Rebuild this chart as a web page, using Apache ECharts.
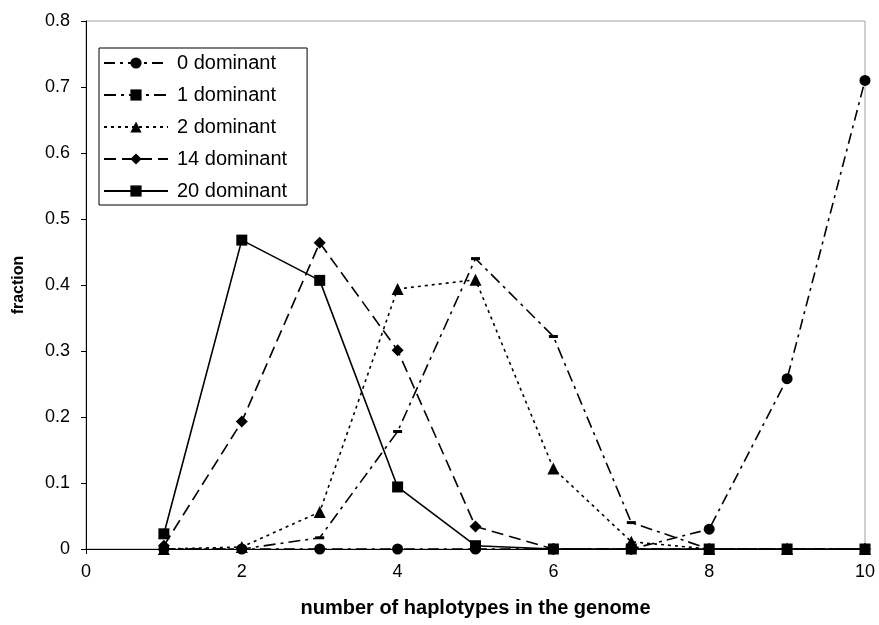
<!DOCTYPE html>
<html>
<head>
<meta charset="utf-8">
<script src="https://cdn.jsdelivr.net/npm/echarts@6/dist/echarts.min.js"></script>
<style>
  html, body { margin: 0; padding: 0; background: #fff; }
  #chart { width: 879px; height: 625px; }
</style>
</head>
<body>
<div id="chart"></div>
<script>
// number of haplotypes in the genome
const haplotypes = [1, 2, 3, 4, 5, 6, 7, 8, 9, 10];
const seriesNames = ["0 dominant", "1 dominant", "2 dominant", "14 dominant", "20 dominant"];
const dominant0 = [0, 0, 0, 0, 0, 0, 0, 0.03, 0.258, 0.71];
const dominant1 = [0, 0, 0.017, 0.178, 0.44, 0.322, 0.04, 0, 0, 0];
const dominant2 = [0, 0.003, 0.056, 0.394, 0.408, 0.122, 0.011, 0, 0, 0];
const dominant14 = [0.005, 0.193, 0.464, 0.301, 0.034, 0, 0, 0, 0, 0];
const dominant20 = [0.023, 0.468, 0.407, 0.094, 0.005, 0, 0, 0, 0, 0];

const font = "Liberation Sans, Arial, sans-serif";

function pairs(values) {
  return haplotypes.map((x, i) => [x, values[i]]);
}

function makeSeries(name, values, symbol, symbolSize, dash) {
  return {
    name: name,
    type: "line",
    data: pairs(values),
    symbol: symbol,
    symbolSize: symbolSize,
    showAllSymbol: true,
    itemStyle: { color: "#000" },
    lineStyle: { color: "#000", width: 1.6, type: dash },
    emphasis: { disabled: true },
  };
}

let myChart = echarts.init(document.getElementById("chart"));
let option = {
  animation: false,
  textStyle: { fontFamily: font },
  grid: {
    left: 86, right: 14, top: 21, bottom: 76,
    outerBoundsMode: "none",
    containLabel: false,
    show: true, borderColor: "#a0a0a0", borderWidth: 1,
  },
  legend: {
    orient: "vertical",
    left: 99, top: 48,
    data: seriesNames,
    backgroundColor: "#fff",
    borderColor: "#000",
    borderWidth: 1,
    padding: [5, 20, 4, 4],
    itemWidth: 64,
    itemHeight: 14,
    itemGap: 12,
    textStyle: { fontSize: 20, color: "#000", fontFamily: font, padding: [0, 0, 0, 4] },
  },
  xAxis: {
    type: "value",
    min: 0, max: 10, interval: 2,
    name: "number of haplotypes in the genome",
    nameLocation: "middle",
    nameGap: 49,
    nameTextStyle: { fontSize: 20, fontWeight: "bold", color: "#000" },
    axisLine: { lineStyle: { color: "#000", width: 1 } },
    axisTick: { show: true, length: 5, lineStyle: { color: "#000" } },
    axisLabel: { fontSize: 18, color: "#000", margin: 14 },
    splitLine: { show: false },
  },
  yAxis: {
    type: "value",
    min: 0, max: 0.8, interval: 0.1,
    name: "fraction",
    nameLocation: "middle",
    nameGap: 59,
    nameTextStyle: { fontSize: 16, fontWeight: "bold", color: "#000" },
    axisLine: { show: true, lineStyle: { color: "#000", width: 1 } },
    axisTick: { show: true, length: 5, lineStyle: { color: "#000" } },
    axisLabel: { fontSize: 18, color: "#000", margin: 16 },
    splitLine: { show: false },
  },
  series: [
    makeSeries(seriesNames[0], dominant0, "circle", 11, [11, 5, 3, 5]),
    makeSeries(seriesNames[1], dominant1, "rect", [9, 3], [12, 5, 3, 5]),
    makeSeries(seriesNames[2], dominant2, "triangle", 12, [3, 4]),
    makeSeries(seriesNames[3], dominant14, "diamond", 12, [12, 6]),
    makeSeries(seriesNames[4], dominant20, "rect", 11, "solid"),
  ],
};
option && myChart.setOption(option);
window.addEventListener("resize", function () {
  myChart.resize();
});
</script>
</body>
</html>
